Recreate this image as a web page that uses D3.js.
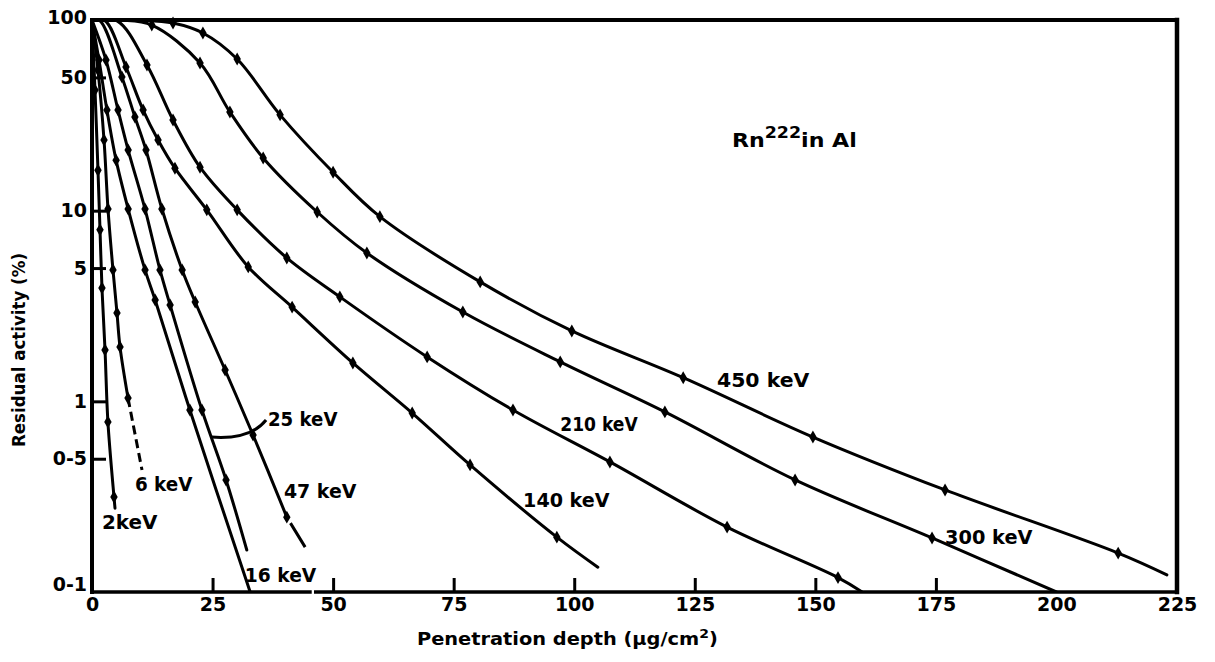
<!DOCTYPE html>
<html>
<head>
<meta charset="utf-8">
<script src="https://cdn.jsdelivr.net/npm/d3@7"></script>
<style>
  html, body { margin: 0; padding: 0; background: #fff; }
  svg { display: block; background: #fff; }
  text { font-family: "DejaVu Sans", "Liberation Sans", sans-serif; font-weight: bold; fill: #000; }
</style>
</head>
<body>
<svg id="chart" width="1215" height="662"></svg>
<script>
// Residual activity of Rn-222 implanted in aluminium versus penetration depth,
// one curve per implantation energy.

const xTicks = [0, 25, 50, 75, 100, 125, 150, 175, 200, 225];
const xTickMarks = [25, 50, 75, 100, 125, 150, 175];
const yTicks = [100, 50, 10, 5, 1, 0.5, 0.1];
const yTickLabels = ["100", "50", "10", "5", "1", "0-5", "0-1"];

// [penetration depth (µg/cm²), residual activity (%)]
const kev2 = [[0,100],[0.62,42.9],[1.24,16.3],[1.66,7.93],[2.07,3.93],[2.7,1.86],[3.3,0.78],[4.56,0.315],[4.77,0.275]];
const kev6 = [[0,100],[1.24,54.7],[2.49,23.5],[3.32,10.2],[4.35,4.89],[5.18,2.91],[5.81,1.93],[7.47,1.04],[10.37,0.436]];
const kev16 = [[0,100],[1.45,61.7],[3.1,33.7],[5.0,18.4],[7.5,10.2],[11,4.89],[13.1,3.4],[20.3,0.9],[32.8,0.1]];
const kev25 = [[0,100],[2.9,61.7],[5.4,33.7],[7.5,20.8],[11,10.2],[14.1,4.89],[16.2,3.2],[22.8,0.9],[27.8,0.387],[32.1,0.166]];
const kev47 = [[0,100],[1.66,99],[6.2,50.3],[8.9,31],[11.2,20.8],[14.5,10.2],[18.7,4.89],[21.4,3.32],[27.6,1.46],[33.4,0.666],[40.4,0.247],[44.2,0.172]];
const kev140 = [[0,100],[2.7,99],[7.05,56.7],[10.6,33.7],[13.7,23.5],[17.2,16.7],[23.8,10.1],[32.4,5.07],[41.5,3.12],[54.1,1.59],[66.4,0.868],[78.4,0.464],[96.4,0.194],[104.9,0.135]];
const kev210 = [[0,100],[5.2,99],[11.4,58.1],[16.8,29.9],[22.4,16.9],[30.1,10.1],[40.4,5.65],[51.4,3.53],[69.5,1.71],[87.3,0.9],[107.4,0.481],[131.7,0.219],[154.7,0.119],[159.7,0.1]];
const kev300 = [[0,100],[6,99.8],[12.4,94],[22.4,59.5],[28.6,32.9],[35.5,18.9],[46.7,9.84],[57,6.0],[76.9,2.94],[97.1,1.61],[118.8,0.88],[145.8,0.387],[174.2,0.192],[200,0.1]];
const kev450 = [[0,100],[10,99.8],[16.8,96.5],[23,85.5],[30.1,62.4],[39,31.8],[50,15.9],[59.7,9.3],[80.5,4.23],[99.5,2.34],[122.6,1.33],[149.5,0.65],[176.9,0.343],[212.8,0.16],[222.9,0.123]];

const energyNames = ["2keV", "6 keV", "16 keV", "25 keV", "47 keV", "140 keV", "210 keV", "300 keV", "450 keV"];

// Drawing setup for each curve: which point the broken (dashed) tail starts at, and label placement
const series = [
  { name: energyNames[0], pts: kev2,   dashFrom: null, dash: null,     label: [2.07, 0.214], labelW: 56 },
  { name: energyNames[1], pts: kev6,   dashFrom: 7,    dash: "9,5",    label: [8.9, 0.339],  labelW: 58 },
  { name: energyNames[2], pts: kev16,  dashFrom: null, dash: null,     label: [31.7, 0.113], labelW: 72 },
  { name: energyNames[3], pts: kev25,  dashFrom: null, dash: null,     label: [36.5, 0.742], labelW: 70 },
  { name: energyNames[4], pts: kev47,  dashFrom: 10,   dash: "0,7,30", label: [39.8, 0.311], labelW: 73 },
  { name: energyNames[5], pts: kev140, dashFrom: null, dash: null,     label: [89.4, 0.279], labelW: 87 },
  { name: energyNames[6], pts: kev210, dashFrom: null, dash: null,     label: [97.1, 0.699], labelW: 78 },
  { name: energyNames[7], pts: kev300, dashFrom: null, dash: null,     label: [176.9, 0.179], labelW: 88 },
  { name: energyNames[8], pts: kev450, dashFrom: null, dash: null,     label: [129.6, 1.19], labelW: 93 }
];

const svg = d3.select("#chart");

const x = d3.scaleLinear().domain([0, 225]).range([92, 1177]);
const y = d3.scaleLog().domain([0.1, 100]).range([592, 20]);

// stretch a start-anchored text horizontally to a given width
function fitWidth(sel, w) {
  const bb = sel.node().getBBox();
  const sx = w / bb.width;
  const x0 = bb.x, y0 = +sel.attr("y");
  sel.attr("transform", `translate(${x0},${y0}) scale(${sx},1) translate(${-x0},${-y0})`);
}

// clip curves to the plot frame
svg.append("defs").append("clipPath").attr("id", "plotClip")
  .append("rect")
  .attr("x", x(0)).attr("y", y(100) - 2)
  .attr("width", x(225) - x(0)).attr("height", y(0.1) - y(100) + 2);

// ---- axes ----
const xAxis = d3.axisBottom(x)
  .tickValues(xTicks)
  .tickSizeInner(-14)
  .tickSizeOuter(0)
  .tickPadding(6)
  .tickFormat(d3.format("d"));

const gx = svg.append("g").attr("transform", `translate(0,${y(0.1)})`).call(xAxis);
gx.select(".domain").remove();
gx.selectAll(".tick line")
  .attr("stroke", "#000").attr("stroke-width", 3)
  .attr("display", d => xTickMarks.includes(d) ? null : "none");
gx.selectAll(".tick text")
  .attr("font-size", 19).attr("font-family", "DejaVu Sans").attr("font-weight", "bold");

const yAxis = d3.axisLeft(y)
  .tickValues(yTicks)
  .tickSizeInner(-14)
  .tickSizeOuter(0)
  .tickPadding(5)
  .tickFormat((d, i) => yTickLabels[i]);

const gy = svg.append("g").attr("transform", `translate(${x(0)},0)`).call(yAxis);
gy.select(".domain").remove();
gy.selectAll(".tick line")
  .attr("stroke", "#000").attr("stroke-width", 3)
  .attr("display", d => (d === 100 || d === 0.1) ? "none" : null);
gy.selectAll(".tick text")
  .attr("font-size", 19).attr("font-family", "DejaVu Sans").attr("font-weight", "bold")
  .attr("dy", d => d === 0.1 ? "-0.1em" : d === 100 ? "0.2em" : "0.32em");

// frame: left and bottom axes (bottom one broken under the 47 keV tail), top and right borders
const frame = svg.append("g").attr("stroke", "#000").attr("stroke-linecap", "square").attr("fill", "none");
frame.append("line").attr("x1", x(0)).attr("x2", x(0)).attr("y1", y(100)).attr("y2", y(0.1)).attr("stroke-width", 4);
frame.append("line").attr("x1", x(0)).attr("x2", x(45.2)).attr("y1", y(0.1)).attr("y2", y(0.1)).attr("stroke-width", 3.5);
frame.append("line").attr("x1", x(46.4)).attr("x2", x(225)).attr("y1", y(0.1)).attr("y2", y(0.1)).attr("stroke-width", 3.5);
frame.append("line").attr("x1", x(0)).attr("x2", x(225)).attr("y1", y(100)).attr("y2", y(100)).attr("stroke-width", 4);
frame.append("line").attr("x1", x(225)).attr("x2", x(225)).attr("y1", y(100)).attr("y2", y(0.1)).attr("stroke-width", 4.5);

// ---- curves ----
const line = d3.line()
  .x(d => x(d[0]))
  .y(d => y(d[1]))
  .curve(d3.curveCatmullRom.alpha(0.5));

const curves = svg.append("g").attr("clip-path", "url(#plotClip)")
  .attr("fill", "none").attr("stroke", "#000").attr("stroke-width", 3)
  .attr("stroke-linecap", "round").attr("stroke-linejoin", "round");

series.forEach(s => {
  const solid = s.dashFrom == null ? s.pts : s.pts.slice(0, s.dashFrom + 1);
  curves.append("path").attr("d", line(solid));
  if (s.dashFrom != null) {
    curves.append("path").attr("d", line(s.pts.slice(s.dashFrom)))
      .attr("stroke-dasharray", s.dash).attr("stroke-linecap", "butt");
  }
});

// measured points
const marker = d3.symbol().type(d3.symbolDiamond).size(48);
const markG = svg.append("g").attr("fill", "#000");
series.forEach(s => {
  const n = s.pts.length;
  markG.selectAll(null)
    .data(s.pts.filter((d, i) => i > 0 && i < n - 1 && d[1] < 99))
    .join("path")
    .attr("d", marker)
    .attr("transform", d => `translate(${x(d[0])},${y(d[1])})`);
});

// ---- curve labels ----
const labelG = svg.append("g");
series.forEach(s => {
  const t = labelG.append("text")
    .attr("x", x(s.label[0])).attr("y", y(s.label[1]))
    .attr("font-size", 20)
    .text(s.name);
  fitWidth(t, s.labelW);
});

// leader from the 25 keV label to its curve
const leadFrom = [24.7, 0.65], leadTo = [36.1, 0.798];
const p0 = [x(leadFrom[0]), y(leadFrom[1])], p1 = [x(leadTo[0]), y(leadTo[1])];
svg.append("path")
  .attr("d", `M${p0[0]},${p0[1]} Q${p1[0] - 16},${p0[1] + 3} ${p1[0]},${p1[1]}`)
  .attr("fill", "none").attr("stroke", "#000").attr("stroke-width", 3);

// annotation
const ann = svg.append("text").attr("x", x(132.7)).attr("y", y(21.6)).attr("font-size", 19);
ann.append("tspan").text("Rn");
ann.append("tspan").attr("dy", -9).attr("font-size", 15).text("222");
ann.append("tspan").attr("dy", 9).text("in Al");
fitWidth(ann, 125);

// axis titles
const xt = svg.append("text").attr("x", 417).attr("y", 645).attr("font-size", 18);
xt.append("tspan").text("Penetration depth (μg/cm");
xt.append("tspan").attr("dy", -7).attr("font-size", 13).text("2");
xt.append("tspan").attr("dy", 7).text(")");
fitWidth(xt, 301);

svg.append("text")
  .attr("transform", "translate(25,350) rotate(-90)")
  .attr("text-anchor", "middle")
  .attr("font-size", 17)
  .attr("textLength", 194)
  .attr("lengthAdjust", "spacingAndGlyphs")
  .text("Residual activity (%)");
</script>
</body>
</html>
